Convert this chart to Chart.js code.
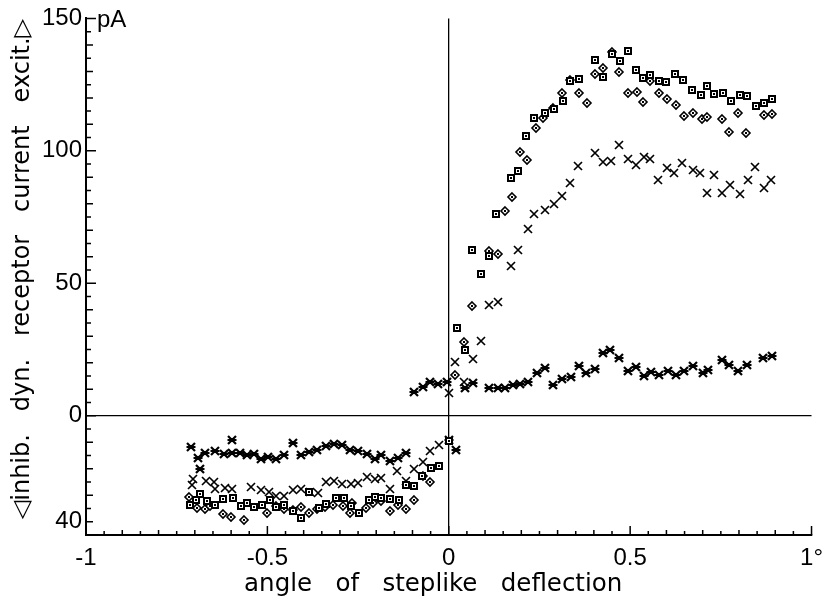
<!DOCTYPE html>
<html>
<head>
<meta charset="utf-8">
<script src="https://cdn.jsdelivr.net/npm/chart.js@4.4.1/dist/chart.umd.min.js"></script>
<style>
  html, body { margin: 0; padding: 0; background: #fff; }
  #wrap { width: 832px; height: 605px; }
</style>
</head>
<body>
<div id="wrap"><canvas id="myChart" width="832" height="605"></canvas></div>
<script>
// tick labels shown on the axes
const xLabelValues = [-1, -0.5, 0, 0.5, 1];
const xTickLabels = ['-1', '-0.5', '0', '0.5', '1°'];
const yLabelValues = [150, 100, 50, 0, -40];
const yTickLabels = ['150', '100', '50', '0', '40'];

// squares
const squareX = [-0.714, -0.696, -0.687, -0.667, -0.644, -0.623, -0.596, -0.573, -0.557, -0.536, -0.516, -0.493, -0.475, -0.454, -0.430, -0.407, -0.384, -0.359, -0.338, -0.311, -0.289, -0.270, -0.247, -0.219, -0.204, -0.186, -0.163, -0.137, -0.117, -0.095, -0.074, -0.049, -0.028, 0.000,
  0.022, 0.045, 0.065, 0.089, 0.110, 0.131, 0.172, 0.192, 0.212, 0.236, 0.265, 0.290, 0.314, 0.335, 0.359, 0.403, 0.425, 0.450, 0.473, 0.495, 0.517, 0.536, 0.556, 0.579, 0.600, 0.625, 0.646, 0.671, 0.696, 0.711, 0.732, 0.755, 0.778, 0.802, 0.823, 0.846, 0.869, 0.892];
const squareY = [-33.8, -31.6, -29.7, -32.2, -33.8, -31.3, -31.0, -34.1, -33.1, -34.5, -33.5, -31.6, -34.4, -33.5, -36.0, -38.5, -28.8, -34.7, -33.2, -31.0, -31.0, -34.1, -36.6, -31.6, -30.7, -31.0, -31.3, -31.6, -26.3, -26.6, -22.8, -19.7, -19.1, -9.7,
  33.0, 24.8, 62.4, 53.6, 60.2, 76.2, 89.6, 92.5, 105.6, 112.5, 114.2, 115.7, 118.8, 126.3, 127.2, 134.4, 127.8, 136.6, 134.1, 137.8, 130.5, 127.6, 128.8, 126.3, 125.9, 129.2, 126.7, 122.8, 120.9, 124.4, 121.3, 121.7, 118.8, 121.1, 120.7, 116.9, 117.9, 119.4];

// diamonds
const diamondX = [-0.717, -0.694, -0.671, -0.659, -0.623, -0.600, -0.564, -0.500, -0.477, -0.454, -0.430, -0.407, -0.386, -0.363, -0.341, -0.318, -0.292, -0.273, -0.268, -0.227, -0.208, -0.186, -0.163, -0.140, -0.119, -0.096, -0.072, -0.052,
  0.017, 0.042, 0.065, 0.110, 0.137, 0.156, 0.174, 0.197, 0.217, 0.240, 0.260, 0.288, 0.311, 0.335, 0.358, 0.381, 0.402, 0.425, 0.450, 0.470, 0.495, 0.518, 0.536, 0.556, 0.579, 0.602, 0.627, 0.649, 0.673, 0.698, 0.711, 0.754, 0.773, 0.796, 0.820, 0.869, 0.891];
const diamondY = [-30.6, -34.7, -35.1, -34.1, -37.2, -38.1, -39.3, -36.6, -34.1, -35.1, -35.6, -34.4, -36.6, -35.3, -34.4, -33.5, -34.1, -36.6, -32.8, -34.7, -33.1, -32.2, -36.0, -33.8, -35.1, -31.8, -22.8, -25.1,
  15.4, 27.9, 41.4, 62.1, 60.9, 77.4, 82.4, 99.7, 96.6, 108.8, 112.5, 116.0, 121.9, 126.9, 121.9, 118.2, 129.2, 131.3, 137.3, 129.6, 121.7, 122.3, 118.5, 126.3, 121.9, 119.4, 117.3, 113.2, 114.4, 111.9, 112.9, 111.9, 107.3, 114.4, 106.6, 113.4, 113.8];

// crosses
const crossX = [-0.705, -0.707, -0.669, -0.648, -0.644, -0.618, -0.598, -0.544, -0.518, -0.495, -0.475, -0.454, -0.429, -0.407, -0.383, -0.361, -0.339, -0.316, -0.293, -0.270, -0.249, -0.225, -0.204, -0.186, -0.163, -0.143, -0.119, -0.095, -0.072, -0.052, -0.028,
  0.000, 0.017, 0.042, 0.066, 0.089, 0.112, 0.136, 0.172, 0.192, 0.218, 0.236, 0.265, 0.290, 0.313, 0.333, 0.356, 0.404, 0.424, 0.447, 0.470, 0.493, 0.517, 0.538, 0.555, 0.577, 0.602, 0.622, 0.644, 0.672, 0.693, 0.711, 0.732, 0.753, 0.775, 0.802, 0.825, 0.845, 0.869, 0.889];
const crossY = [-23.8, -26.0, -24.7, -24.9, -27.8, -27.2, -27.8, -26.8, -28.1, -28.7, -30.3, -30.3, -28.1, -27.6, -28.8, -29.0, -25.1, -24.7, -25.9, -25.9, -25.3, -23.0, -23.8, -23.4, -27.8, -20.7, -24.7, -20.0, -17.4, -13.2, -10.9,
  8.5, 20.2, 12.9, 21.3, 28.2, 42.0, 43.0, 56.4, 62.4, 70.5, 76.2, 77.7, 79.9, 83.1, 87.7, 94.4, 99.1, 95.9, 96.2, 102.1, 97.1, 94.6, 97.7, 97.1, 89.1, 93.7, 91.8, 95.4, 92.9, 91.8, 84.0, 90.9, 84.1, 87.2, 83.7, 89.1, 94.0, 85.9, 89.0];

// asterisks
const starX = [-0.711, -0.691, -0.685, -0.671, -0.644, -0.620, -0.598, -0.598, -0.575, -0.557, -0.538, -0.518, -0.498, -0.475, -0.453, -0.430, -0.407, -0.386, -0.363, -0.339, -0.316, -0.295, -0.272, -0.249, -0.225, -0.204, -0.186, -0.161, -0.140, -0.119, 0.000, 0.019,
  -0.095, -0.072, -0.051, -0.029, -0.005, 0.044, 0.066, 0.112, 0.136, 0.156, 0.176, 0.197, 0.219, 0.242, 0.265, 0.288, 0.311, 0.336, 0.358, 0.379, 0.402, 0.424, 0.445, 0.468, 0.495, 0.517, 0.538, 0.558, 0.579, 0.605, 0.627, 0.648, 0.673, 0.700, 0.714, 0.752, 0.772, 0.796, 0.821, 0.866, 0.891];
const starY = [-11.9, -15.9, -19.9, -14.0, -13.4, -14.3, -9.3, -14.0, -14.0, -14.9, -14.4, -16.5, -15.5, -16.2, -14.7, -10.3, -14.9, -13.8, -13.0, -11.3, -10.5, -11.2, -13.0, -13.4, -14.3, -16.2, -14.7, -17.2, -15.9, -14.0, -9.3, -13.0,
  9.1, 11.0, 12.9, 12.0, 12.9, 10.4, 12.3, 10.6, 10.6, 10.6, 11.7, 12.0, 12.9, 16.0, 17.9, 11.7, 13.8, 14.8, 18.9, 16.0, 17.5, 23.8, 24.8, 22.0, 17.0, 18.5, 15.0, 16.7, 15.4, 17.0, 15.4, 16.9, 18.8, 16.3, 17.3, 21.1, 19.2, 16.9, 19.2, 21.7, 22.7];

const ink = '#000';

// small canvases used as point styles
function makeMarker(kind) {
  const c = document.createElement('canvas');
  c.width = 12;
  c.height = 12;
  const g = c.getContext('2d');
  g.strokeStyle = ink;
  g.fillStyle = ink;
  if (kind === 'square') {
    g.fillRect(2, 2, 8, 8);
    g.fillStyle = '#fff';
    g.fillRect(4, 4, 4, 4);
    g.fillStyle = ink;
    g.fillRect(5, 5, 2, 2);
  } else if (kind === 'diamond') {
    g.lineWidth = 1.6;
    g.beginPath();
    g.moveTo(6, 2);
    g.lineTo(10, 6);
    g.lineTo(6, 10);
    g.lineTo(2, 6);
    g.closePath();
    g.fillStyle = '#fff';
    g.fill();
    g.stroke();
    g.fillStyle = ink;
    g.fillRect(5, 5, 2, 2);
  } else if (kind === 'cross') {
    g.lineWidth = 1.7;
    g.beginPath();
    g.moveTo(2, 2); g.lineTo(10, 10);
    g.moveTo(10, 2); g.lineTo(2, 10);
    g.stroke();
  } else {
    g.lineWidth = 2.2;
    g.beginPath();
    g.moveTo(2, 2); g.lineTo(10, 10);
    g.moveTo(10, 2); g.lineTo(2, 10);
    g.moveTo(1.5, 6); g.lineTo(10.5, 6);
    g.stroke();
    g.fillRect(4, 4, 4, 4);
  }
  return c;
}

function toPoints(xs, ys) {
  return xs.map((x, i) => ({ x: x, y: ys[i] }));
}

function series(label, xs, ys, kind) {
  return {
    label: label,
    data: toPoints(xs, ys),
    pointStyle: makeMarker(kind),
    pointRadius: 5,
    pointHoverRadius: 5,
    showLine: false
  };
}

// keep the point images crisp
const crispPoints = {
  id: 'crispPoints',
  beforeDatasetsDraw(chart) { chart.ctx.imageSmoothingEnabled = false; },
  afterDatasetsDraw(chart) { chart.ctx.imageSmoothingEnabled = true; }
};

// axis line, inward tick marks and the unit label
const axisExtras = {
  id: 'axisExtras',
  afterDraw(chart) {
    const ctx = chart.ctx;
    const xs = chart.scales.x;
    const ys = chart.scales.y;
    const area = chart.chartArea;
    ctx.save();
    ctx.strokeStyle = ink;
    ctx.lineWidth = 2;
    ctx.beginPath();
    ctx.moveTo(area.left, area.top - 1);
    ctx.lineTo(area.left, area.bottom);
    ctx.stroke();
    ctx.lineWidth = 1.5;
    ctx.beginPath();
    ys.ticks.forEach((t) => {
      const py = ys.getPixelForValue(t.value);
      let len = 5;
      if (t.value % 10 === 0) len = 7;
      if (t.value % 50 === 0) len = 10;
      ctx.moveTo(area.left, py);
      ctx.lineTo(area.left + len, py);
    });
    xs.ticks.forEach((t) => {
      const px = xs.getPixelForValue(t.value);
      const k = Math.round(t.value * 20);
      let len = 4;
      if (k % 2 === 0) len = 5;
      if (k % 10 === 0) len = 9;
      ctx.moveTo(px, area.bottom);
      ctx.lineTo(px, area.bottom - len);
    });
    ctx.stroke();
    ctx.fillStyle = ink;
    ctx.font = '24px "Liberation Sans", Arial, sans-serif';
    ctx.textAlign = 'left';
    ctx.textBaseline = 'middle';
    ctx.fillText('pA', area.left + 11, ys.getPixelForValue(150) + 2);
    ctx.restore();
  }
};

function mainEvent() {
  const target = document.querySelector('#myChart');
  const tickFont = { family: '"Liberation Sans", Arial, sans-serif', size: 24 };
  const titleFont = { family: '"DejaVu Sans", sans-serif', size: 24 };

  const config = {
    type: 'scatter',
    data: {
      datasets: [
        series('squares', squareX, squareY, 'square'),
        series('diamonds', diamondX, diamondY, 'diamond'),
        series('crosses', crossX, crossY, 'cross'),
        series('asterisks', starX, starY, 'star')
      ]
    },
    options: {
      responsive: false,
      animation: false,
      layout: { padding: { top: 16, right: 14, left: 0, bottom: 0 } },
      plugins: { legend: { display: false }, tooltip: { enabled: false } },
      scales: {
        x: {
          type: 'linear',
          min: -1,
          max: 1,
          afterBuildTicks: (axis) => {
            const list = [];
            for (let i = -20; i <= 20; i++) list.push({ value: i / 20 });
            axis.ticks = list;
          },
          afterFit: (axis) => { axis.height = 70; },
          ticks: {
            autoSkip: false,
            maxRotation: 0,
            padding: 9,
            color: ink,
            font: tickFont,
            callback: (value) => {
              const idx = xLabelValues.findIndex((v) => Math.abs(v - value) < 1e-9);
              return idx >= 0 ? xTickLabels[idx] : '';
            }
          },
          grid: {
            drawTicks: false,
            lineWidth: 1.3,
            color: (c) => (c.tick && c.tick.value === 0 ? ink : 'rgba(0,0,0,0)')
          },
          border: { display: true, color: ink, width: 2 },
          title: {
            display: true,
            text: 'angle   of   steplike   deflection    ',
            color: ink,
            font: { family: '"DejaVu Sans", sans-serif', size: 24.5 },
            padding: { top: 0, bottom: 6 }
          }
        },
        y: {
          type: 'linear',
          min: -45,
          max: 150,
          afterBuildTicks: (axis) => {
            const list = [];
            for (let v = -45; v <= 150; v += 5) list.push({ value: v });
            axis.ticks = list;
          },
          afterFit: (axis) => { axis.width = 86; },
          ticks: {
            autoSkip: false,
            padding: 4,
            color: ink,
            font: tickFont,
            callback: (value) => {
              const idx = yLabelValues.indexOf(value);
              return idx >= 0 ? yTickLabels[idx] : '';
            }
          },
          grid: {
            drawTicks: false,
            lineWidth: 1.3,
            color: (c) => (c.tick && c.tick.value === 0 ? ink : 'rgba(0,0,0,0)')
          },
          border: { display: true, color: ink, width: 2 },
          title: {
            display: true,
            text: '  ◁inhib.   dyn.   receptor   current   excit.▷',
            color: ink,
            font: titleFont,
            padding: { top: 8, bottom: 0 }
          }
        }
      }
    },
    plugins: [crispPoints, axisExtras]
  };

  return new Chart(target, config);
}

document.addEventListener('DOMContentLoaded', () => mainEvent());
</script>
</body>
</html>
